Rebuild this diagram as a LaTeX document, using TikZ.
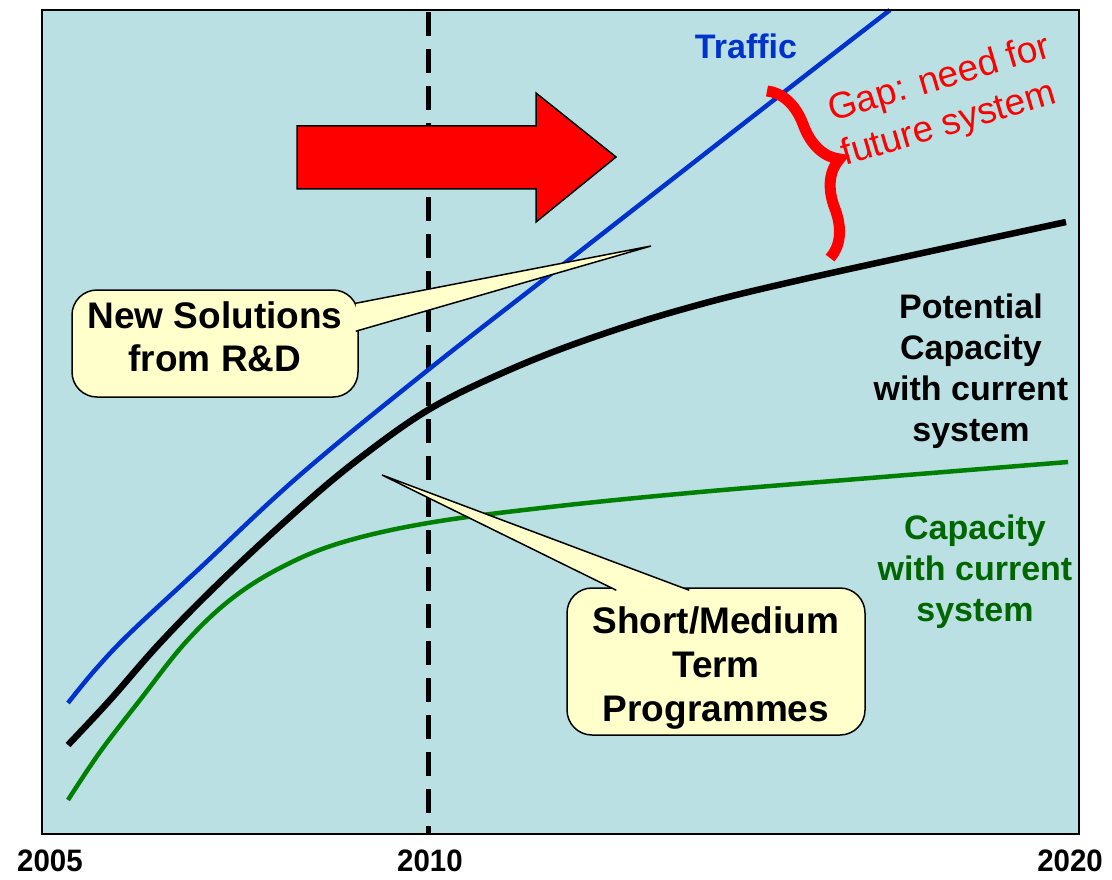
\documentclass[tikz,border=0pt]{standalone}
\usepackage{fontspec}
\setmainfont{Liberation Sans}
\usetikzlibrary{decorations.pathreplacing, calc}

\definecolor{chartbg}{HTML}{BAE0E3}
\definecolor{trafficblue}{HTML}{0033CC}
\definecolor{capgreen}{HTML}{008000}
\definecolor{capgreentext}{HTML}{006600}
\definecolor{notefill}{HTML}{FFFFCC}

\tikzset{
  curvelabel/.style={font=\bfseries\fontsize{34}{41}\selectfont, align=center},
  notebox/.style={draw, fill=notefill, line width=1.5pt, rounded corners=25pt, inner sep=0pt},
  notetext/.style={font=\bfseries\fontsize{37}{43}\selectfont, align=center, inner sep=0pt},
  pointer/.style={fill=notefill, draw, line width=1.5pt, line join=miter},
  yearlabel/.style={font=\bfseries\fontsize{31}{31}\selectfont},
}

\begin{document}
\begin{tikzpicture}[x=1pt, y=-1pt]
\useasboundingbox (0,0) rectangle (1112,880);
\fill[chartbg] (42,10) rectangle (1079,834);
\draw[line width=5pt, dash pattern=on 24pt off 13pt] (428,12) -- (428,834);

% curves
\draw[capgreen, line width=4.5pt] plot[smooth, tension=0.6] coordinates {(68,800) (100,752) (140,700) (185,643) (230,600) (280,568) (340,543) (428,523) (550,507) (700,492) (870,478) (1068,462)};
\draw[line width=6.5pt] plot[smooth, tension=0.6] coordinates {(68,745) (110,700) (160,643) (220,582) (300,508) (360,458) (428,410) (500,374) (580,342) (680,310) (800,280) (1066,222)};
\draw[trafficblue, line width=4.5pt] plot[smooth, tension=0.6] coordinates {(68,703) (95,670) (130,633) (200,568) (300,475) (428,370) (565,263) (770,103) (890,10)};

% big arrow
\draw[fill=red, line width=1.5pt] (297,126) -- (536,126) -- (536,93) -- (616,157) -- (536,222) -- (536,189) -- (297,189) -- cycle;

% callouts
\node[notebox, minimum width=286pt, minimum height=107pt] (rdbox) at (215,343.5) {};
\coordinate (rdtip) at (651,246);
\filldraw[pointer] ([xshift=-3pt, yshift=-14pt]rdbox.north east) -- (rdtip) -- ([xshift=-3pt, yshift=-42pt]rdbox.north east);
\node[notetext] (rd) at (215,336.5) {New Solutions\\from R\&D};

\node[notebox, minimum width=298pt, minimum height=147pt] (smtbox) at (716,661.5) {};
\coordinate (smttip) at (382,475);
\filldraw[pointer] ([xshift=50pt, yshift=-3pt]smtbox.north west) -- (smttip) -- ([xshift=123pt, yshift=-3pt]smtbox.north west);
\node[notetext, font=\bfseries\fontsize{37}{44}\selectfont] (smt) at (716,668.5) {Short/Medium\\Term\\Programmes};

% labels
\node[curvelabel, trafficblue] (traffic) at (746,46) {Traffic};
\node[curvelabel] (potential) at (971,371) {Potential\\Capacity\\with current\\system};
\node[curvelabel, capgreentext] (capacity) at (975,572) {Capacity\\with current\\system};

% gap
\draw[red, line width=11pt, decorate, decoration={brace, amplitude=44pt}] (767,91) -- (830,258);
\node[red, rotate=16.5, align=left, font=\fontsize{37}{46}\selectfont] (gap) at (946,102) {Gap: need for\\future system};

\draw[line width=2pt] (42,10) rectangle (1079,834);

% years
\foreach \x/\yr in {50/2005, 430/2010, 1070/2020}
  \node[yearlabel] (y\yr) at (\x,861) {\scalebox{0.95}[1]{\yr}};
\end{tikzpicture}
\end{document}
